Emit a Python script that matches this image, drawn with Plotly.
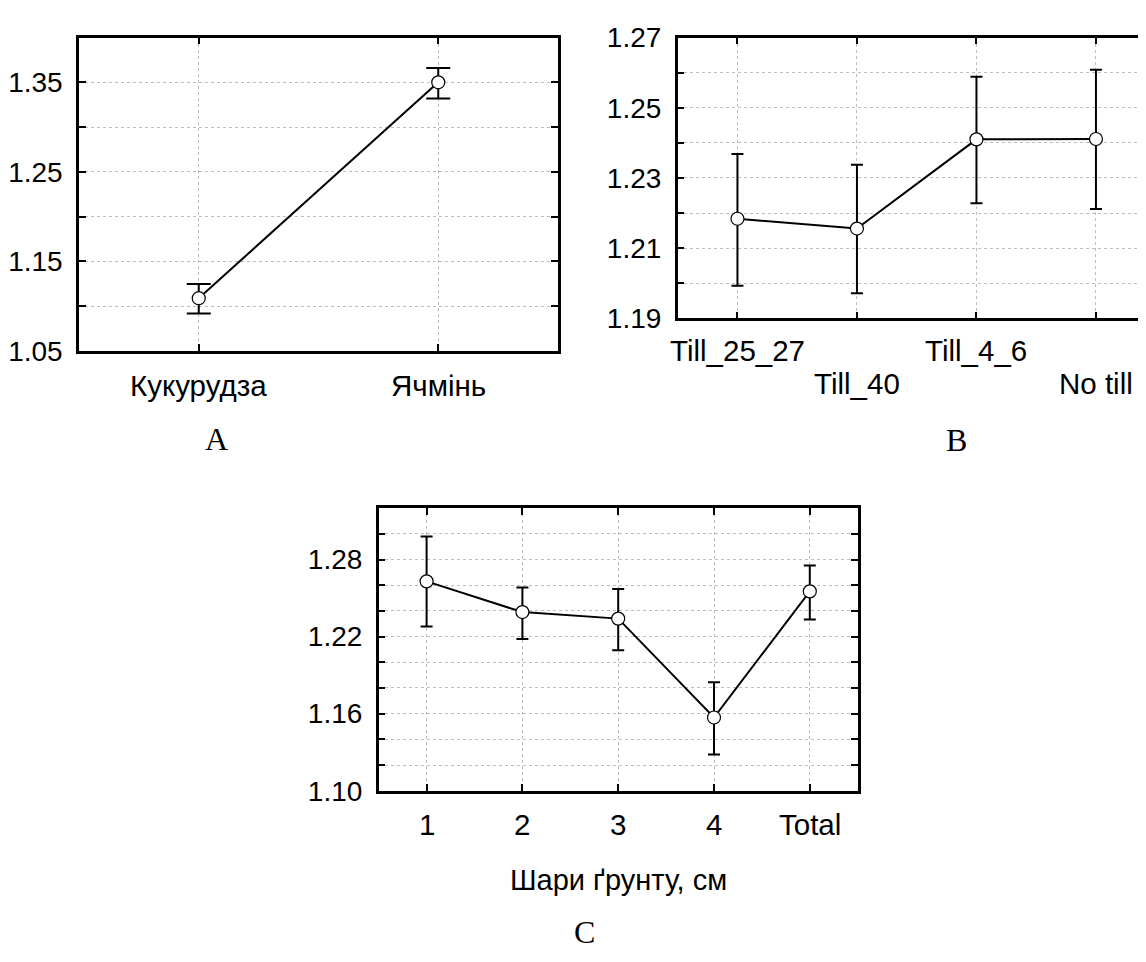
import plotly.graph_objects as go

# ---------------- data ----------------
# Panel A
a_categories = ["Кукурудза", "Ячмінь"]
a_mean = [1.109, 1.350]
a_upper = [1.125, 1.366]
a_lower = [1.092, 1.332]
a_tickvals = [1.05, 1.10, 1.15, 1.20, 1.25, 1.30, 1.35]
a_ticktext = ["1.05", "", "1.15", "", "1.25", "", "1.35"]

# Panel B
b_categories = ["Till_25_27", "Till_40", "Till_4_6", "No till"]
b_mean = [1.2184, 1.2156, 1.2410, 1.2411]
b_upper = [1.2368, 1.2338, 1.2588, 1.2608]
b_lower = [1.1993, 1.1972, 1.2228, 1.2212]
b_tickvals = [1.19, 1.20, 1.21, 1.22, 1.23, 1.24, 1.25, 1.26, 1.27]
b_ticktext = ["1.19", "", "1.21", "", "1.23", "", "1.25", "", "1.27"]

# Panel C
c_categories = ["1", "2", "3", "4", "Total"]
c_mean = [1.2630, 1.2391, 1.2340, 1.1570, 1.2552]
c_upper = [1.2980, 1.2582, 1.2570, 1.1845, 1.2753]
c_lower = [1.2278, 1.2182, 1.2094, 1.1282, 1.2333]
c_tickvals = [1.10, 1.12, 1.14, 1.16, 1.18, 1.20, 1.22, 1.24, 1.26, 1.28, 1.30]
c_ticktext = ["1.10", "", "", "1.16", "", "", "1.22", "", "", "1.28", ""]
c_xtitle = "Шари ґрунту, см"

panel_letters = ["A", "B", "C"]

# ---------------- layout constants (pixels in page coordinates) ----------------
W, H = 1146, 962
FONT = "Liberation Sans, Arial, sans-serif"
SERIF = "Liberation Serif, Times New Roman, serif"
YTICK_SIZE = 28
XTICK_SIZE = 29.5
OFF = 8  # page body margin compensation


def px_x(p):
    return (p - OFF) / W


def px_y(p):
    return 1 - (p - OFF) / H


fig = go.Figure()


def add_panel(idx, cats, mean, upper, lower, capw):
    xs = list(range(len(cats)))
    err_plus = [u - m for u, m in zip(upper, mean)]
    err_minus = [m - l for m, l in zip(mean, lower)]
    suffix = "" if idx == 1 else str(idx)
    fig.add_trace(go.Scatter(
        x=xs, y=mean, mode="lines+markers",
        xaxis="x" + suffix, yaxis="y" + suffix,
        line=dict(color="black", width=2),
        marker=dict(symbol="circle", size=13, color="white",
                    line=dict(color="black", width=1.2)),
        error_y=dict(type="data", symmetric=False, array=err_plus,
                     arrayminus=err_minus, color="black", thickness=2,
                     width=capw),
        showlegend=False, cliponaxis=False,
    ))


add_panel(1, a_categories, a_mean, a_upper, a_lower, 12)
add_panel(2, b_categories, b_mean, b_upper, b_lower, 6)
add_panel(3, c_categories, c_mean, c_upper, c_lower, 6)

common_axis = dict(
    showline=True, linecolor="black", linewidth=2.5,
    ticks="inside", ticklen=7, tickwidth=2, tickcolor="black",
    showgrid=True, gridcolor="#bdbdbd", gridwidth=1, griddash="dot",
    zeroline=False, ticklabeloverflow="allow",
    tickfont=dict(family=FONT, size=YTICK_SIZE, color="black"),
)

# Panel A axes
xa = dict(common_axis, domain=[px_x(79), px_x(558)], range=[-0.5, 1.5],
          tickvals=list(range(len(a_categories))), showticklabels=False,
          mirror="ticks", anchor="y")
ya = dict(common_axis, domain=[px_y(347), px_y(23)], range=[1.05, 1.40],
          tickvals=a_tickvals, ticktext=a_ticktext, mirror="ticks",
          anchor="x", ticklabelstandoff=8)

# Panel B axes (right edge clipped by the image border)
b_left = 677.7
b_step = 119.5
b_right_val = -0.5 + (W + OFF - b_left) / b_step
xb = dict(common_axis, domain=[px_x(b_left), 1.0], range=[-0.5, b_right_val],
          tickvals=list(range(len(b_categories))), showticklabels=False,
          mirror="ticks", anchor="y2")
yb = dict(common_axis, domain=[px_y(313.3), px_y(23)], range=[1.19, 1.27],
          tickvals=b_tickvals, ticktext=b_ticktext, mirror=False,
          anchor="x2", ticklabelstandoff=8)

# Panel C axes
xc = dict(common_axis, domain=[px_x(378.7), px_x(857.7)], range=[-0.5, 4.5],
          tickvals=list(range(len(c_categories))), showticklabels=False,
          mirror="ticks", anchor="y3")
yc = dict(common_axis, domain=[px_y(801.3), px_y(509.3)], range=[1.10, 1.32],
          tickvals=c_tickvals, ticktext=c_ticktext, mirror="ticks",
          anchor="x3", ticklabelstandoff=8)

annotations = []


def tick_label(text, xref, xval, ycenter):
    annotations.append(dict(
        text=text, x=xval, y=px_y(ycenter), xref=xref, yref="paper",
        xanchor="center", yanchor="middle", showarrow=False,
        font=dict(family=FONT, size=XTICK_SIZE, color="black"),
    ))


for i, t in enumerate(a_categories):
    tick_label(t, "x", i, 383)
for i, t in enumerate(b_categories):
    tick_label(t, "x2", i, 346.3 if i % 2 == 0 else 380)
for i, t in enumerate(c_categories):
    tick_label(t, "x3", i, 836.2)

# x-axis title of panel C
annotations.append(dict(
    text=c_xtitle, x=0.5 * (px_x(378.7) + px_x(857.7)), y=px_y(894),
    xref="paper", yref="paper", xanchor="center", yanchor="middle",
    showarrow=False, font=dict(family=FONT, size=29, color="black"),
))

letter_pos = [(216.7, 438), (956, 438.5), (584, 947.5)]
for letter, (lx, ly) in zip(panel_letters, letter_pos):
    annotations.append(dict(
        text=letter, x=px_x(lx), y=px_y(ly), xref="paper", yref="paper",
        xanchor="center", yanchor="middle", showarrow=False,
        font=dict(family=SERIF, size=32, color="black"),
    ))

fig.update_layout(
    width=W, height=H,
    margin=dict(l=0, r=0, t=0, b=0),
    paper_bgcolor="white", plot_bgcolor="white",
    xaxis=xa, yaxis=ya, xaxis2=xb, yaxis2=yb, xaxis3=xc, yaxis3=yc,
    annotations=annotations,
    font=dict(family=FONT, color="black"),
)

fig.write_html("out.html")
